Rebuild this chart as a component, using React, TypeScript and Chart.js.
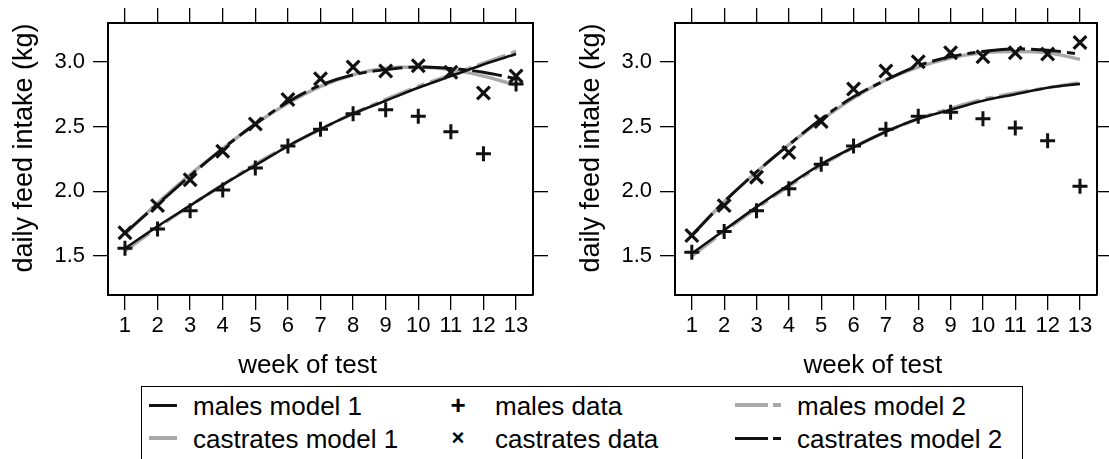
import React, { useEffect, useRef } from "react";
import { Chart, registerables } from "chart.js";

Chart.register(...registerables);

// ---------- data ----------
const weeks = [1, 2, 3, 4, 5, 6, 7, 8, 9, 10, 11, 12, 13];
const xTickValues = [1, 2, 3, 4, 5, 6, 7, 8, 9, 10, 11, 12, 13];
const yTickValues = [1.5, 2.0, 2.5, 3.0];

// left panel
const malesDataL = [1.56, 1.71, 1.85, 2.01, 2.18, 2.35, 2.48, 2.6, 2.63, 2.58, 2.46, 2.29, 2.83];
const castratesDataL = [1.68, 1.89, 2.09, 2.31, 2.52, 2.71, 2.87, 2.96, 2.93, 2.97, 2.92, 2.76, 2.89];
const malesModel1L = [1.56, 1.73, 1.89, 2.05, 2.2, 2.35, 2.48, 2.6, 2.7, 2.8, 2.89, 2.98, 3.06];
const malesModel2L = [1.54, 1.72, 1.89, 2.05, 2.21, 2.35, 2.48, 2.6, 2.71, 2.81, 2.9, 2.99, 3.08];
const castratesModel1L = [1.67, 1.91, 2.13, 2.33, 2.52, 2.68, 2.81, 2.9, 2.95, 2.96, 2.94, 2.89, 2.82];
const castratesModel2L = [1.68, 1.9, 2.12, 2.33, 2.52, 2.69, 2.82, 2.9, 2.94, 2.96, 2.95, 2.92, 2.87];

// right panel
const malesDataR = [1.53, 1.69, 1.85, 2.02, 2.21, 2.35, 2.48, 2.58, 2.61, 2.56, 2.49, 2.39, 2.04];
const castratesDataR = [1.66, 1.89, 2.11, 2.3, 2.54, 2.79, 2.93, 3.0, 3.07, 3.04, 3.07, 3.06, 3.15];
const malesModel1R = [1.52, 1.7, 1.88, 2.05, 2.21, 2.34, 2.46, 2.56, 2.63, 2.7, 2.75, 2.8, 2.83];
const malesModel2R = [1.5, 1.69, 1.87, 2.04, 2.2, 2.34, 2.46, 2.56, 2.64, 2.71, 2.76, 2.8, 2.84];
const castratesModel1R = [1.66, 1.92, 2.15, 2.36, 2.55, 2.72, 2.86, 2.96, 3.03, 3.07, 3.08, 3.07, 3.02];
const castratesModel2R = [1.66, 1.92, 2.15, 2.36, 2.56, 2.73, 2.86, 2.97, 3.04, 3.08, 3.1, 3.09, 3.06];

const xTitle = "week of test";
const yTitle = "daily feed intake (kg)";
const legendLabels = [
  "males model 1",
  "castrates model 1",
  "males data",
  "castrates data",
  "males model 2",
  "castrates model 2",
];

// ---------- styles ----------
const FONT = "'Liberation Sans', Arial, Helvetica, sans-serif";
const BLACK = "#111111";
const GRAY = "#a9a9a9";
const DASH = [30, 6, 8, 6];

function pts(ys: number[]) {
  return weeks.map((w, i) => ({ x: w, y: ys[i] }));
}

const titlesPlugin = {
  id: "panelTitles",
  afterDraw(chart: any, _args: any, opts: any) {
    const { ctx, chartArea } = chart;
    ctx.save();
    ctx.fillStyle = "#000";
    ctx.textAlign = "center";
    ctx.textBaseline = "alphabetic";
    ctx.font = `26px ${FONT}`;
    ctx.fillText(opts.xTitle, (chartArea.left + chartArea.right) / 2 - 13, chartArea.bottom + 78);
    ctx.font = `27px ${FONT}`;
    ctx.translate(chartArea.left - 76, (chartArea.top + chartArea.bottom) / 2 - 11);
    ctx.rotate(-Math.PI / 2);
    ctx.fillText(opts.yTitle, 0, 0);
    ctx.restore();
  },
};

function makeConfig(
  mData: number[],
  cData: number[],
  m1: number[],
  m2: number[],
  c1: number[],
  c2: number[],
  rightWidth: number
): any {
  const lineBase = { showLine: true, pointRadius: 0, cubicInterpolationMode: "monotone", fill: false };
  const tickGrid = { drawOnChartArea: false, drawTicks: true, tickLength: 15, color: "#000", lineWidth: 1.3 };
  const border = { display: true, color: "#000", width: 2 };
  const setX = (s: any) => {
    s.ticks = xTickValues.map((v) => ({ value: v }));
  };
  const setY = (s: any) => {
    s.ticks = yTickValues.map((v) => ({ value: v }));
  };
  return {
    type: "scatter",
    data: {
      datasets: [
        { ...lineBase, label: "males model 2", data: pts(m2), borderColor: GRAY, borderWidth: 3.5, borderDash: DASH, order: 3 },
        { ...lineBase, label: "castrates model 1", data: pts(c1), borderColor: GRAY, borderWidth: 3.5, order: 3 },
        { ...lineBase, label: "males model 1", data: pts(m1), borderColor: BLACK, borderWidth: 2.6, order: 2 },
        { ...lineBase, label: "castrates model 2", data: pts(c2), borderColor: BLACK, borderWidth: 2.9, borderDash: DASH, order: 2 },
        {
          label: "males data",
          data: pts(mData),
          showLine: false,
          pointStyle: "cross",
          pointRadius: 7.5,
          pointBorderWidth: 3,
          pointBorderColor: BLACK,
          borderColor: BLACK,
          order: 1,
        },
        {
          label: "castrates data",
          data: pts(cData),
          showLine: false,
          pointStyle: "crossRot",
          pointRadius: 9,
          pointBorderWidth: 3.2,
          pointBorderColor: BLACK,
          borderColor: BLACK,
          order: 1,
        },
      ],
    },
    options: {
      animation: false,
      responsive: false,
      events: [],
      layout: { padding: 0 },
      plugins: {
        legend: { display: false },
        tooltip: { enabled: false },
        panelTitles: { xTitle, yTitle },
      },
      scales: {
        x: {
          type: "linear",
          position: "bottom",
          min: 0.48,
          max: 13.52,
          afterBuildTicks: setX,
          afterFit: (s: any) => {
            s.height = 85;
          },
          ticks: {
            autoSkip: false,
            maxRotation: 0,
            padding: 3,
            color: "#000",
            font: { family: FONT, size: 22 },
            callback: (v: any) => String(v),
          },
          grid: tickGrid,
          border,
        },
        x2: {
          type: "linear",
          position: "top",
          min: 0.48,
          max: 13.52,
          afterBuildTicks: setX,
          afterFit: (s: any) => {
            s.height = 23;
          },
          ticks: { display: false },
          grid: tickGrid,
          border,
        },
        y: {
          type: "linear",
          position: "left",
          min: 1.2,
          max: 3.3,
          afterBuildTicks: setY,
          afterFit: (s: any) => {
            s.width = 108;
          },
          ticks: {
            padding: 8,
            color: "#000",
            font: { family: FONT, size: 22 },
            callback: (v: any) => Number(v).toFixed(1),
          },
          grid: tickGrid,
          border,
        },
        y2: {
          type: "linear",
          position: "right",
          min: 1.2,
          max: 3.3,
          afterBuildTicks: setY,
          afterFit: (s: any) => {
            s.width = rightWidth;
          },
          ticks: { display: false },
          grid: tickGrid,
          border,
        },
      },
    },
    plugins: [titlesPlugin],
  };
}

function Panel(props: { left: number; width: number; cfg: () => any }) {
  const ref = useRef<HTMLCanvasElement | null>(null);
  useEffect(() => {
    if (!ref.current) return;
    const chart = new Chart(ref.current, props.cfg());
    return () => chart.destroy();
  }, []);
  return (
    <canvas
      ref={ref}
      width={props.width}
      height={380}
      style={{ position: "absolute", left: props.left, top: 0, width: props.width, height: 380 }}
    />
  );
}

const textStyle: any = {
  position: "absolute",
  fontFamily: FONT,
  fontSize: 26,
  lineHeight: "26px",
  color: "#000",
  whiteSpace: "nowrap",
};

export default function App() {
  useEffect(() => {
    document.body.style.margin = "0";
  }, []);
  const row1 = 405;
  const row2 = 438;
  return (
    <div
      style={{
        position: "absolute",
        left: 0,
        top: 0,
        width: 1109,
        height: 459,
        overflow: "hidden",
        background: "#fff",
      }}
    >
      <Panel
        left={0}
        width={560}
        cfg={() => makeConfig(malesDataL, castratesDataL, malesModel1L, malesModel2L, castratesModel1L, castratesModel2L, 27)}
      />
      <Panel
        left={567}
        width={542}
        cfg={() => makeConfig(malesDataR, castratesDataR, malesModel1R, malesModel2R, castratesModel1R, castratesModel2R, 9)}
      />
      {/* legend box */}
      <div
        style={{
          position: "absolute",
          left: 141,
          top: 386,
          width: 1023 - 141,
          height: 100,
          borderTop: "1.5px solid #000",
          borderLeft: "1.5px solid #000",
          borderRight: "1.5px solid #000",
          boxSizing: "border-box",
        }}
      />
      {/* column 1 samples */}
      <div style={{ position: "absolute", left: 149, top: row1 - 1.5, width: 28, height: 3, background: BLACK }} />
      <div style={{ position: "absolute", left: 149, top: row2 - 1.75, width: 28, height: 3.5, background: GRAY }} />
      <div style={{ ...textStyle, left: 193, top: row1 - 12 }}>{legendLabels[0]}</div>
      <div style={{ ...textStyle, left: 193, top: row2 - 12 }}>{legendLabels[1]}</div>
      {/* column 2 symbols */}
      <div style={{ ...textStyle, left: 448, top: row1 - 13, fontWeight: "bold", width: 20, textAlign: "center" }}>+</div>
      <div style={{ ...textStyle, left: 448, top: row2 - 13, fontWeight: "bold", fontSize: 22, width: 20, textAlign: "center" }}>×</div>
      <div style={{ ...textStyle, left: 495, top: row1 - 12 }}>{legendLabels[2]}</div>
      <div style={{ ...textStyle, left: 495, top: row2 - 12 }}>{legendLabels[3]}</div>
      {/* column 3 samples */}
      <div style={{ position: "absolute", left: 735, top: row1 - 1.75, width: 33, height: 3.5, background: GRAY }} />
      <div style={{ position: "absolute", left: 773, top: row1 - 1.75, width: 8, height: 3.5, background: GRAY }} />
      <div style={{ position: "absolute", left: 735, top: row2 - 1.5, width: 33, height: 3, background: BLACK }} />
      <div style={{ position: "absolute", left: 773, top: row2 - 1.5, width: 8, height: 3, background: BLACK }} />
      <div style={{ ...textStyle, left: 797, top: row1 - 12 }}>{legendLabels[4]}</div>
      <div style={{ ...textStyle, left: 797, top: row2 - 12 }}>{legendLabels[5]}</div>
    </div>
  );
}
